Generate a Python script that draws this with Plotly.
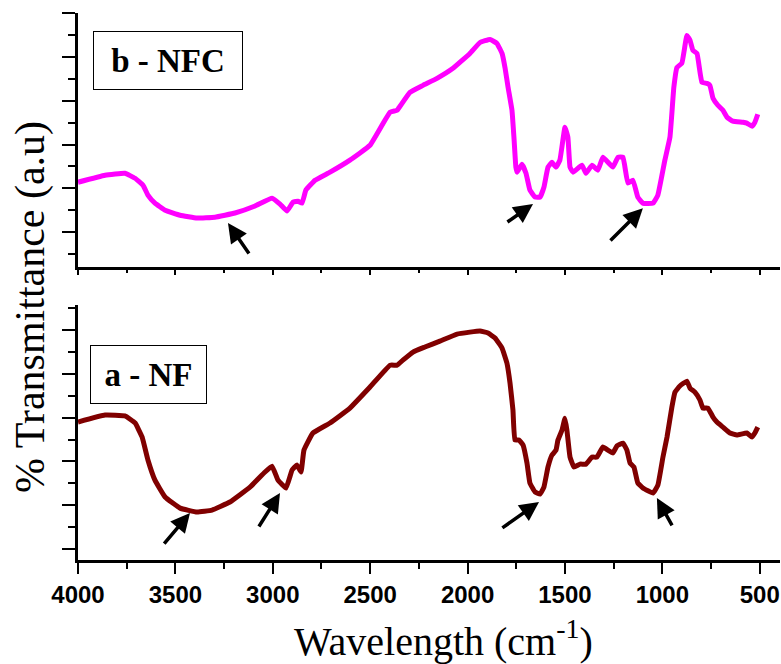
import plotly.graph_objects as go

# ---------------- data ----------------
nfc_wavenumber = [4000, 3861, 3759, 3707, 3666, 3641, 3605, 3553, 3476, 3389, 3297, 3194, 3091, 3004,
                  2963, 2927, 2896, 2871, 2850, 2830, 2783, 2706, 2604, 2501, 2398, 2362, 2347, 2296,
                  2229, 2157, 2075, 1988, 1936, 1885, 1849, 1823, 1808, 1792, 1772, 1762, 1752, 1746,
                  1721, 1700, 1680, 1654, 1628, 1608, 1587, 1567, 1546, 1526, 1500, 1485, 1474, 1459,
                  1413, 1392, 1361, 1331, 1305, 1254, 1228, 1202, 1177, 1151, 1126, 1100, 1048, 1023,
                  987, 961, 941, 925, 900, 874, 858, 843, 822, 797, 771, 756, 740, 715, 689, 668, 638,
                  586, 566, 540, 525, 510]
nfc_transmittance = [3.28, 3.60, 3.69, 3.46, 3.14, 2.69, 2.32, 2.00, 1.77, 1.64, 1.68, 1.87, 2.19, 2.55,
                     2.28, 1.96, 2.37, 2.41, 2.32, 2.92, 3.37, 3.74, 4.29, 4.97, 6.48, 6.57, 6.75, 7.39,
                     7.71, 8.03, 8.49, 9.17, 9.67, 9.81, 9.63, 9.17, 8.53, 7.62, 6.57, 5.34, 3.97, 3.74,
                     4.10, 3.69, 2.92, 2.60, 2.60, 3.05, 3.97, 4.19, 3.97, 4.29, 5.79, 5.34, 3.97, 3.74,
                     4.06, 3.69, 4.06, 3.83, 4.42, 3.97, 4.42, 4.42, 3.24, 3.37, 2.60, 2.32, 2.32, 2.69,
                     4.29, 5.34, 7.62, 8.53, 8.72, 9.99, 9.77, 9.31, 9.17, 7.85, 7.80, 7.71, 7.12, 6.80,
                     6.57, 6.25, 6.07, 6.02, 5.98, 5.84, 6.02, 6.39]

nf_wavenumber = [4000, 3861, 3759, 3707, 3671, 3641, 3605, 3553, 3476, 3389, 3312, 3220, 3117, 3040,
                 3004, 2973, 2932, 2901, 2876, 2855, 2840, 2794, 2706, 2604, 2501, 2398, 2362, 2332,
                 2280, 2219, 2142, 2054, 1988, 1936, 1895, 1859, 1823, 1798, 1782, 1767, 1757, 1736,
                 1715, 1695, 1680, 1654, 1628, 1608, 1587, 1567, 1546, 1536, 1515, 1500, 1490, 1474,
                 1454, 1423, 1392, 1361, 1336, 1305, 1280, 1254, 1233, 1202, 1182, 1166, 1146, 1126,
                 1100, 1048, 1023, 997, 976, 951, 935, 910, 874, 858, 833, 807, 792, 766, 740, 720,
                 689, 653, 617, 566, 540, 525, 510]
nf_transmittance = [5.80, 6.12, 6.08, 5.76, 5.12, 4.07, 3.15, 2.38, 1.87, 1.69, 1.78, 2.15, 2.83, 3.52,
                    3.79, 3.15, 2.79, 3.61, 3.84, 3.52, 4.52, 5.30, 5.76, 6.44, 7.40, 8.40, 8.40, 8.63,
                    9.00, 9.23, 9.50, 9.82, 9.91, 9.96, 9.87, 9.64, 9.18, 8.50, 7.58, 6.35, 4.98, 4.98,
                    4.75, 3.93, 3.02, 2.61, 2.51, 2.83, 3.75, 4.29, 4.52, 4.98, 5.44, 5.98, 5.44, 4.20,
                    3.75, 3.88, 3.88, 4.20, 4.20, 4.66, 4.52, 4.39, 4.71, 4.84, 4.52, 3.93, 3.75, 3.02,
                    2.79, 2.56, 2.92, 4.20, 5.12, 6.49, 7.17, 7.45, 7.67, 7.35, 7.17, 6.81, 6.44, 6.44,
                    6.03, 5.80, 5.57, 5.30, 5.21, 5.30, 5.12, 5.30, 5.57]

x_tick_values = [4000, 3500, 3000, 2500, 2000, 1500, 1000, 500]
x_tick_labels = ["4000", "3500", "3000", "2500", "2000", "1500", "1000", "500"]

# arrows: (head wavenumber, head value, tail wavenumber, tail value)
nfc_arrows = [(3230, 1.41, 3117, -0.05), (1664, 2.28, 1803, 1.41), (1100, 2.09, 1274, 0.54)]
nf_arrows = [(3425, 1.65, 3564, 0.18), (2963, 2.56, 3076, 0.96),
             (1633, 2.15, 1829, 0.92), (1028, 2.33, 946, 1.01)]

panel_labels = ["b - NFC", "a - NF"]

# ---------------- figure ----------------
serif = "Times New Roman, Liberation Serif, serif"
sans = "Arial, Liberation Sans, sans-serif"

fig = go.Figure()
fig.add_trace(go.Scatter(x=nf_wavenumber, y=nf_transmittance, mode="lines",
                         line=dict(color="#800000", width=5, shape="spline", smoothing=0.3),
                         xaxis="x", yaxis="y", showlegend=False))
fig.add_trace(go.Scatter(x=nfc_wavenumber, y=nfc_transmittance, mode="lines",
                         line=dict(color="#FF00FF", width=5, shape="spline", smoothing=0.3),
                         xaxis="x2", yaxis="y2", showlegend=False))

common_x = dict(range=[4000, 396], showline=True, linecolor="black", linewidth=2.5,
                showgrid=False, zeroline=False, ticks="outside", tickcolor="black",
                tickwidth=2, tickvals=x_tick_values, ticktext=x_tick_labels,
                mirror=False)
common_y = dict(showline=True, linecolor="black", linewidth=2.5, showgrid=False,
                zeroline=False, ticks="outside", tickcolor="black", tickwidth=2,
                ticklen=13, showticklabels=False)

fig.update_layout(
    width=781, height=664,
    margin=dict(l=78, r=1, t=13, b=104),
    paper_bgcolor="white", plot_bgcolor="white",
    xaxis=dict(**common_x, anchor="y", ticklen=11,
               tickfont=dict(family=sans, size=24, color="black", weight="bold"),
               minor=dict(dtick=250, tick0=0, ticklen=6, tickwidth=2, tickcolor="black",
                          ticks="outside", showgrid=False)),
    xaxis2=dict(**common_x, anchor="y2", ticklen=5, showticklabels=False,
                minor=dict(dtick=250, tick0=0, ticklen=3, tickwidth=2, tickcolor="black",
                           ticks="outside", showgrid=False)),
    yaxis=dict(**common_y, domain=[0, 0.4662], range=[-0.5, 11.15], dtick=2, tick0=0,
               minor=dict(dtick=1, tick0=0, ticklen=7, tickwidth=2, tickcolor="black",
                          ticks="outside", showgrid=False)),
    yaxis2=dict(**common_y, domain=[0.5356, 1], range=[-0.6, 11.02], dtick=2, tick0=1,
                minor=dict(dtick=1, tick0=0, ticklen=7, tickwidth=2, tickcolor="black",
                           ticks="outside", showgrid=False)),
)

annotations = []
for (hx, hy, tx, ty) in nfc_arrows:
    annotations.append(dict(x=hx, y=hy, ax=tx, ay=ty, xref="x2", yref="y2", axref="x2", ayref="y2",
                            showarrow=True, arrowhead=2, arrowsize=1.1, arrowwidth=3.5,
                            arrowcolor="black", text="", standoff=0))
for (hx, hy, tx, ty) in nf_arrows:
    annotations.append(dict(x=hx, y=hy, ax=tx, ay=ty, xref="x", yref="y", axref="x", ayref="y",
                            showarrow=True, arrowhead=2, arrowsize=1.1, arrowwidth=3.5,
                            arrowcolor="black", text="", standoff=0))

annotations.append(dict(x=0.128, y=0.914, xref="paper", yref="paper", xanchor="center", yanchor="middle",
                        text="<b>" + panel_labels[0] + "</b>", showarrow=False,
                        font=dict(family=serif, size=33, color="black"),
                        bordercolor="black", borderwidth=1, borderpad=0, bgcolor="white",
                        width=148, height=57))
annotations.append(dict(x=0.1004, y=0.339, xref="paper", yref="paper", xanchor="center", yanchor="middle",
                        text="<b>" + panel_labels[1] + "</b>", showarrow=False,
                        font=dict(family=serif, size=33, color="black"),
                        bordercolor="black", borderwidth=1, borderpad=0, bgcolor="white",
                        width=115, height=57))

annotations.append(dict(x=0.521, y=-0.143, xref="paper", yref="paper", xanchor="center", yanchor="middle",
                        text="Wavelength (cm<sup>-1</sup>)", showarrow=False,
                        font=dict(family=serif, size=40, color="black")))
annotations.append(dict(x=-0.0684, y=0.4625, xref="paper", yref="paper", xanchor="center", yanchor="middle",
                        text="% Transmittance (a.u)", showarrow=False, textangle=-90,
                        font=dict(family=serif, size=42, color="black")))

fig.update_layout(annotations=annotations)
fig.write_html("out.html")
